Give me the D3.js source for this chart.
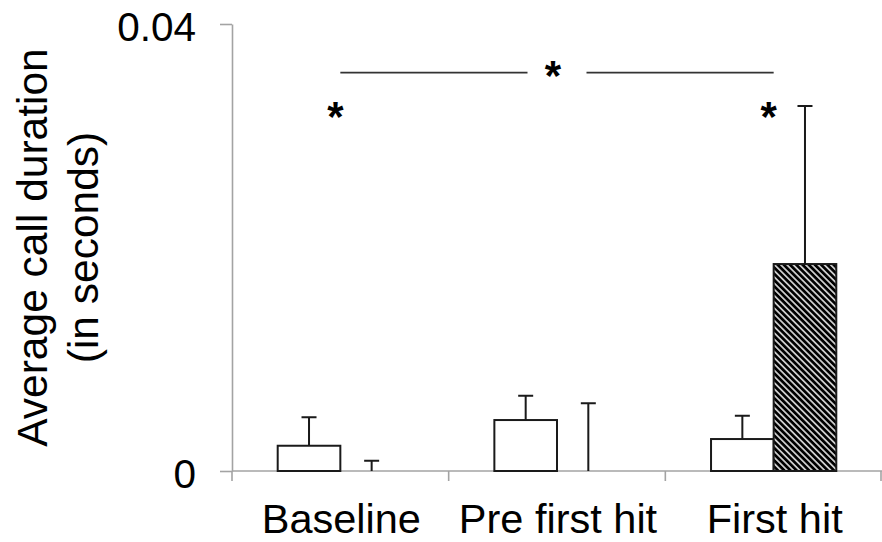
<!DOCTYPE html>
<html lang="en">
<head>
    <meta charset="UTF-8">
    <title>Average call duration</title>
    <script src="https://d3js.org/d3.v7.min.js"></script>
    <style>
        body { margin: 0; background: #fff; }
        text { font-family: "Liberation Sans", Arial, Helvetica, sans-serif; fill: #000; }
    </style>
</head>
<body>
<div id="chart"></div>
<script type="text/javascript">

    // data
    var categories = ["Baseline", "Pre first hit", "First hit"];
    var seriesNames = ["open", "hatched"];
    var openMeans = [0.00226, 0.00456, 0.00286];
    var openErrors = [0.00254, 0.00218, 0.00209];
    var hatchedMeans = [0, 0, 0.01852];
    var hatchedErrors = [0.00092, 0.00606, 0.01414];
    var yTickValues = [0, 0.04];
    var yTickLabels = ["0", "0.04"];
    var yTitleLines = ["Average call duration", "(in seconds)"];

    // significance marks
    var sigBracketFrom = "Baseline";
    var sigBracketTo = "First hit";
    var sigBracketValue = 0.03564;
    var sigMiddleStarValue = 0.0362;
    var sigSideStarCategories = ["Baseline", "First hit"];
    var sigSideStarValue = 0.0326;

    var width = 882;
    var height = 542;

    var svg = d3.select("#chart")
        .append("svg")
        .attr("width", width)
        .attr("height", height);

    // scales
    var x0 = d3.scaleBand()
        .domain(categories)
        .range([232, 882])
        .padding(0);

    var bw = x0.bandwidth();

    var x1 = d3.scaleBand()
        .domain(seriesNames)
        .range([45.7, bw - 45.7])
        .padding(0);

    var y = d3.scaleLinear()
        .domain([0, 0.04])
        .range([471, 24]);

    // hatch pattern for the second series
    var pattern = svg.append("defs")
        .append("pattern")
        .attr("id", "hatch")
        .attr("patternUnits", "userSpaceOnUse")
        .attr("width", 4.4)
        .attr("height", 4.4)
        .attr("patternTransform", "rotate(-45)");

    pattern.append("rect")
        .attr("width", 4.4)
        .attr("height", 4.4)
        .attr("fill", "#fff");

    pattern.append("line")
        .attr("x1", 2.2).attr("y1", 0)
        .attr("x2", 2.2).attr("y2", 4.4)
        .attr("stroke", "#000")
        .attr("stroke-width", 3.0);

    var axisColor = "#a3a3a3";

    // y axis
    var yAxis = d3.axisLeft(y)
        .tickValues(yTickValues)
        .tickFormat(function(d, i) { return yTickLabels[i]; })
        .tickSize(12)
        .tickSizeOuter(0)
        .tickPadding(24);

    var yG = svg.append("g")
        .attr("transform", "translate(232,0)")
        .call(yAxis);

    yG.select(".domain").attr("stroke", axisColor).attr("stroke-width", 1.6);
    yG.selectAll(".tick line").attr("stroke", axisColor).attr("stroke-width", 1.6);
    yG.selectAll(".tick text")
        .style("font-size", "40.5px")
        .attr("dy", "0.41em");

    // x axis line + boundary ticks
    svg.append("line")
        .attr("x1", x0.range()[0])
        .attr("x2", x0.range()[1])
        .attr("y1", y(0))
        .attr("y2", y(0))
        .attr("stroke", axisColor)
        .attr("stroke-width", 1.6);

    var bounds = categories.map(function(c) { return x0(c); }).concat([x0.range()[1] - 1]);

    svg.selectAll(".xbound")
        .data(bounds)
        .enter()
        .append("line")
        .attr("class", "xbound")
        .attr("x1", function(d) { return d; })
        .attr("x2", function(d) { return d; })
        .attr("y1", y(0))
        .attr("y2", y(0) + 10)
        .attr("stroke", axisColor)
        .attr("stroke-width", 1.6);

    // category labels
    svg.selectAll(".xlabel")
        .data(categories)
        .enter()
        .append("text")
        .attr("class", "xlabel")
        .attr("x", function(d) { return x0(d) + bw / 2 + 1; })
        .attr("y", 532.7)
        .attr("text-anchor", "middle")
        .style("font-size", "41.5px")
        .text(function(d) { return d; });

    // y title
    var yTitle = svg.append("text")
        .attr("transform", "rotate(-90)")
        .attr("text-anchor", "middle")
        .style("font-size", "42.5px");

    yTitle.selectAll("tspan")
        .data(yTitleLines)
        .enter()
        .append("tspan")
        .attr("x", -(y(0) + y(0.04)) / 2)
        .attr("y", function(d, i) { return 46.7 + i * 51; })
        .text(function(d) { return d; });

    // bars
    var rows = categories.map(function(c, i) {
        return [
            { cat: c, key: "open", mean: openMeans[i], err: openErrors[i] },
            { cat: c, key: "hatched", mean: hatchedMeans[i], err: hatchedErrors[i] }
        ];
    });

    var groups = svg.selectAll(".group")
        .data(rows)
        .enter()
        .append("g")
        .attr("class", "group")
        .attr("transform", function(d) { return "translate(" + x0(d[0].cat) + ",0)"; });

    groups.selectAll("rect")
        .data(function(d) { return d.filter(function(e) { return e.mean > 0; }); })
        .enter()
        .append("rect")
        .attr("x", function(d) { return x1(d.key); })
        .attr("y", function(d) { return y(d.mean); })
        .attr("width", x1.bandwidth())
        .attr("height", function(d) { return y(0) - y(d.mean); })
        .attr("fill", function(d) { return d.key == "open" ? "#fff" : "url(#hatch)"; })
        .attr("stroke", "#1a1a1a")
        .attr("stroke-width", 2);

    // error bars (upper only)
    var capHalf = 7.5;

    groups.selectAll(".err")
        .data(function(d) { return d; })
        .enter()
        .append("path")
        .attr("class", "err")
        .attr("d", function(d) {
            var cx = x1(d.key) + x1.bandwidth() / 2;
            var top = y(d.mean + d.err);
            return "M" + cx + "," + y(d.mean) + "V" + top +
                "M" + (cx - capHalf) + "," + top + "H" + (cx + capHalf);
        })
        .attr("fill", "none")
        .attr("stroke", "#1a1a1a")
        .attr("stroke-width", 2);

    // significance bracket with a gap for the star
    var bx1 = x0(sigBracketFrom) + bw / 2;
    var bx2 = x0(sigBracketTo) + bw / 2;
    var bmid = (bx1 + bx2) / 2;
    var gap = 29.5;

    svg.append("path")
        .attr("d", "M" + bx1 + "," + y(sigBracketValue) + "H" + (bmid - gap) +
            "M" + (bmid + gap) + "," + y(sigBracketValue) + "H" + bx2)
        .attr("stroke", "#333")
        .attr("stroke-width", 1.8)
        .attr("fill", "none");

    var starSize = 42;

    svg.append("text")
        .attr("x", bmid - 4)
        .attr("y", y(sigMiddleStarValue) + 0.57 * starSize)
        .attr("text-anchor", "middle")
        .style("font-size", starSize + "px")
        .style("font-weight", "bold")
        .text("*");

    svg.selectAll(".sidestar")
        .data(sigSideStarCategories)
        .enter()
        .append("text")
        .attr("class", "sidestar")
        .attr("x", function(d) { return x0(d) + bw / 2 - 5; })
        .attr("y", y(sigSideStarValue) + 0.57 * starSize)
        .attr("text-anchor", "middle")
        .style("font-size", starSize + "px")
        .style("font-weight", "bold")
        .text("*");

</script>
</body>
</html>
